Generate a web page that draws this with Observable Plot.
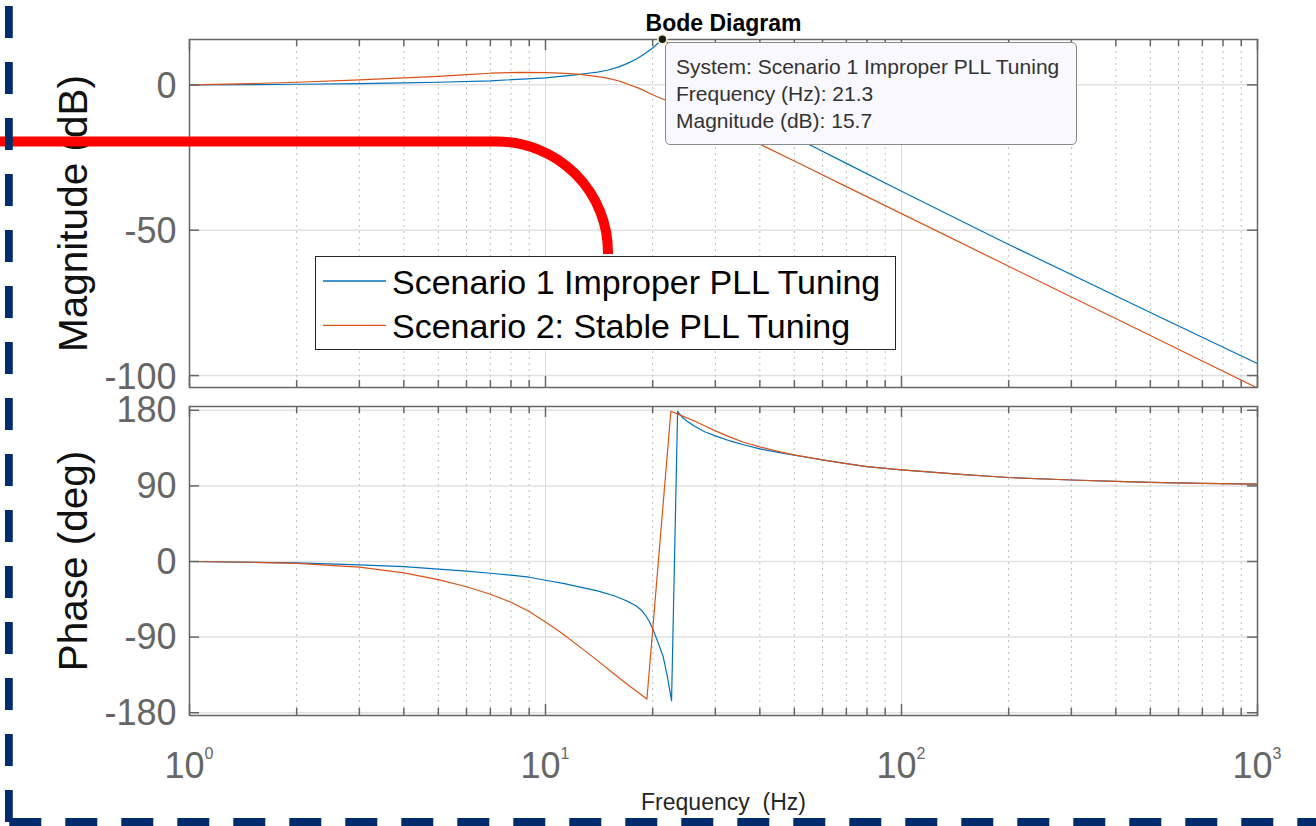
<!DOCTYPE html>
<html>
<head>
<meta charset="utf-8">
<script src="https://cdn.jsdelivr.net/npm/d3@7"></script>
<script src="https://cdn.jsdelivr.net/npm/@observablehq/plot@0.6"></script>
<style>
  html, body { margin: 0; padding: 0; background: #fff; }
  #root { position: relative; width: 1316px; height: 826px; overflow: hidden;
          font-family: "Liberation Sans", Arial, Helvetica, sans-serif; }
  .layer { position: absolute; left: 0; }
</style>
</head>
<body>
<div id="root"></div>
<script>
// ---------------- DATA ----------------
const seriesNames = ["Scenario 1 Improper PLL Tuning", "Scenario 2: Stable PLL Tuning"];
const seriesColors = ["#0072BD", "#D95319"];

// Magnitude (dB) vs frequency (Hz)
const magFreq1 = [1, 1.5, 2, 3, 4, 5, 7, 10, 11, 12, 13, 14, 15, 16, 17, 18, 19, 20, 20.7, 21.3, 22, 23, 25, 30, 35, 40, 45, 55, 70, 100, 200, 500, 1000];
const magVals1 = [0, 0.1, 0.2, 0.45, 0.7, 0.9, 1.4, 2.4, 2.9, 3.35, 3.9, 4.4, 5.1, 6.1, 7.4, 8.9, 10.7, 12.7, 14.3, 15.7, 14.6, 12.2, 7.5, 0, -6.5, -11.2, -15, -20.5, -27.0, -36.6, -54.9, -78.3, -95.9];
const magFreq2 = [1, 1.5, 2, 3, 4, 5, 6, 7, 8.5, 10, 11, 12, 12.5, 13.5, 14.8, 16, 16.9, 18.4, 19.9, 21.6, 25, 30, 35, 40.3, 50, 70, 100, 200, 500, 1000];
const magVals2 = [0, 0.45, 0.9, 1.7, 2.4, 2.9, 3.5, 4.0, 4.3, 4.2, 4.05, 3.8, 3.6, 3.1, 2.4, 1.4, 0.4, -1.3, -3.3, -5.1, -8.6, -13.2, -17.0, -20.6, -26.2, -35.0, -44.3, -62.4, -86.2, -104.3];

// Phase (deg) vs frequency (Hz)
const phFreq1 = [1, 2, 3, 4, 5, 6, 7, 8, 9, 10, 11.3, 12.7, 14, 15.5, 16.5, 17.3, 18, 18.6, 19.1, 19.6, 20, 20.7, 21.4, 22, 22.6, 23.5, 24.3, 25, 26.1, 28, 30, 33, 36, 40, 45, 50, 60, 70, 80, 90, 100, 150, 200, 300, 400, 500, 700, 1000];
const phVals1 = [0, -1.6, -4, -6, -9, -11.5, -14, -16.3, -18.7, -22.3, -26.3, -31, -35, -40.5, -45, -49, -53, -58, -64, -72, -80, -96, -113, -137, -165.7, 178.8, 171, 167, 161.5, 154.5, 149.5, 143.5, 139, 134, 130, 126.5, 121, 116.4, 113, 110.8, 109, 103.5, 100, 97, 95.4, 94.2, 93, 92.2];
const phFreq2 = [1, 1.5, 2, 3, 4, 5, 6, 7, 8, 9, 10, 11, 12.7, 14, 15.5, 17, 19.27, 22.5, 24, 26.1, 28, 30, 33, 36, 40, 45, 50, 60, 70, 80, 90, 100, 150, 200, 300, 400, 500, 700, 1000];
const phVals2 = [0, -0.9, -2.2, -6.8, -13.5, -21.5, -30, -39, -48.5, -59.5, -72, -84, -104, -118, -133, -146.5, -163.7, 178.8, 174, 167.5, 161.5, 155.5, 148, 142, 136.5, 131, 127, 121, 116.4, 113, 110.8, 109, 103.5, 100, 97, 95.4, 94.2, 93, 92.2];

// Axes ticks
const magTicks = [0, -50, -100];
const phaseTicks = [180, 90, 0, -90, -180];
const decadeFreq = [1, 10, 100, 1000];
const decadeBase = ["10", "10", "10", "10"];
const decadeExp = ["0", "1", "2", "3"];
const innerDecades = [10, 100];
const minorFreq = [2, 3, 4, 5, 6, 7, 8, 9, 20, 30, 40, 50, 60, 70, 80, 90, 200, 300, 400, 500, 600, 700, 800, 900];

// Texts
const titleText = "Bode Diagram";
const magLabel = "Magnitude (dB)";
const phaseLabel = "Phase (deg)";
const freqLabel = "Frequency  (Hz)";

// Data tip
const tipSystem = "Scenario 1 Improper PLL Tuning";
const tipFreq = 21.3;
const tipMag = 15.7;

// ---------------- LAYOUT ----------------
const FONT = '"Liberation Sans", Arial, Helvetica, sans-serif';
const W = 1316, ML = 189, MR = 59;
const FW = W - ML - MR;
const AX = "#666";

const zip = (fs, vs) => fs.map((f, i) => ({f, v: vs[i]}));

function gridMarks(yTicks) {
  return [
    Plot.ruleY(yTicks, {y: d => d, stroke: "#e2e2e2", strokeWidth: 1.5}),
    Plot.ruleX(innerDecades, {x: d => d, stroke: "#dcdcdc", strokeWidth: 1}),
    Plot.ruleX(minorFreq, {x: d => d, stroke: "#bdbdbd", strokeWidth: 1, strokeDasharray: "2,4"})
  ];
}
function tickMarks(frameH, yTicks) {
  const c = {stroke: AX, strokeWidth: 1.5};
  return [
    Plot.tickX(minorFreq, {x: d => d, insetBottom: frameH - 7, ...c}),
    Plot.tickX(minorFreq, {x: d => d, insetTop: frameH - 7, ...c}),
    Plot.tickX(decadeFreq, {x: d => d, insetBottom: frameH - 11, ...c}),
    Plot.tickX(decadeFreq, {x: d => d, insetTop: frameH - 11, ...c}),
    Plot.tickY(yTicks, {y: d => d, insetRight: FW - 10, ...c}),
    Plot.tickY(yTicks, {y: d => d, insetLeft: FW - 10, ...c}),
    Plot.frame({stroke: AX, strokeWidth: 1.5})
  ];
}
function seriesLines(f1, v1, f2, v2) {
  return [
    Plot.line(zip(f1, v1), {x: "f", y: "v", stroke: seriesColors[0], strokeWidth: 1.2, clip: true}),
    Plot.line(zip(f2, v2), {x: "f", y: "v", stroke: seriesColors[1], strokeWidth: 1.2, clip: true})
  ];
}

const root = document.getElementById("root");

// ---------- Magnitude panel ----------
const magH = 392, magMT = 39, magMB = 5;
const magPlot = Plot.plot({
  width: W, height: magH,
  marginLeft: ML, marginRight: MR, marginTop: magMT, marginBottom: magMB,
  style: {fontFamily: FONT, background: "transparent", overflow: "visible"},
  x: {type: "log", domain: [1, 1000], axis: null},
  y: {domain: [-104.1, 15.6], axis: null},
  marks: [
    ...gridMarks(magTicks),
    ...seriesLines(magFreq1, magVals1, magFreq2, magVals2),
    ...tickMarks(magH - magMT - magMB, magTicks),
    Plot.text(magTicks, {frameAnchor: "left", y: d => d, text: d => String(d), textAnchor: "end",
      dx: -13, dy: 1.5, fontSize: 36, fill: AX}),
    Plot.text([magLabel], {frameAnchor: "left", text: d => d, rotate: -90, textAnchor: "middle",
      lineAnchor: "bottom", dx: -103, fontSize: 40.5, fill: "#111"}),
    Plot.text([titleText], {frameAnchor: "top", text: d => d, lineAnchor: "bottom", dy: -9,
      fontSize: 23, fontWeight: "bold", fill: "#000"}),
    Plot.dot([{f: tipFreq, v: tipMag}], {x: "f", y: "v", r: 4.5, fill: "#1a1a1a", stroke: "#fff6c0", strokeWidth: 1.6})
  ]
});
const magWrap = document.createElement("div");
magWrap.className = "layer"; magWrap.style.top = "0px";
magWrap.appendChild(magPlot);
root.appendChild(magWrap);

// ---------- Phase panel ----------
const phTop = 396, phH = 430, phMT = 10, phMB = 111;
const phasePlot = Plot.plot({
  width: W, height: phH,
  marginLeft: ML, marginRight: MR, marginTop: phMT, marginBottom: phMB,
  style: {fontFamily: FONT, background: "transparent", overflow: "visible"},
  x: {type: "log", domain: [1, 1000], axis: null},
  y: {domain: [-183.3, 184.5], axis: null},
  marks: [
    ...gridMarks(phaseTicks),
    ...seriesLines(phFreq1, phVals1, phFreq2, phVals2),
    ...tickMarks(phH - phMT - phMB, phaseTicks),
    Plot.text(phaseTicks, {frameAnchor: "left", y: d => d, text: d => String(d), textAnchor: "end",
      dx: -13, dy: 0.5, fontSize: 36, fill: AX}),
    Plot.text([phaseLabel], {frameAnchor: "left", text: d => d, rotate: -90, textAnchor: "middle",
      lineAnchor: "bottom", dx: -103, fontSize: 40.5, fill: "#111"}),
    Plot.text(decadeFreq, {x: d => d, frameAnchor: "bottom", text: (d, i) => decadeBase[i], textAnchor: "end",
      lineAnchor: "bottom", dx: 15, dy: 62, fontSize: 36, fill: AX, ariaLabel: "xtick-base"}),
    Plot.text(decadeFreq, {x: d => d, frameAnchor: "bottom", text: (d, i) => decadeExp[i], textAnchor: "start",
      lineAnchor: "bottom", dx: 15, dy: 43, fontSize: 16, fill: AX, ariaLabel: "xtick-exp"}),
    Plot.text([freqLabel], {frameAnchor: "bottom", text: d => d, lineAnchor: "bottom", dy: 94,
      fontSize: 23, fill: "#262626"})
  ]
});
phasePlot.querySelectorAll('g[aria-label="xtick-base"] text, g[aria-label="xtick-exp"] text').forEach(t => {
  t.setAttribute("transform", (t.getAttribute("transform") || "") + " scale(1,1.28)");
});
const phWrap = document.createElement("div");
phWrap.className = "layer"; phWrap.style.top = phTop + "px";
phWrap.appendChild(phasePlot);
root.appendChild(phWrap);

// ---------- Legend ----------
const legend = document.createElement("div");
Object.assign(legend.style, {position: "absolute", left: "315px", top: "256px", width: "581px", height: "94px",
  boxSizing: "border-box", border: "1px solid #262626", background: "#fff"});
const rowText = [8.2, 51.6], rowLine = [24, 68.3];
const swSvg = d3.create("svg").attr("width", 80).attr("height", 92)
  .style("position", "absolute").style("left", "0px").style("top", "0px");
seriesNames.forEach((name, i) => {
  swSvg.append("line").attr("x1", 7).attr("x2", 70).attr("y1", rowLine[i]).attr("y2", rowLine[i])
    .attr("stroke", seriesColors[i]).attr("stroke-width", 1.3);
  const tx = document.createElement("div");
  Object.assign(tx.style, {position: "absolute", left: "76px", top: rowText[i] + "px", fontSize: "34px",
    lineHeight: "34px", whiteSpace: "nowrap", color: "#000"});
  tx.textContent = name;
  legend.appendChild(tx);
});
legend.appendChild(swSvg.node());
root.appendChild(legend);

// ---------- Data tip box ----------
const tip = document.createElement("div");
Object.assign(tip.style, {position: "absolute", left: "665px", top: "42px", width: "412px", height: "103px",
  boxSizing: "border-box", border: "1px solid #8a8a8a", borderRadius: "5px", background: "#f8f8fe",
  paddingLeft: "10px", paddingTop: "10px", fontSize: "21px", lineHeight: "27px", color: "#333", whiteSpace: "nowrap"});
[ "System: " + tipSystem, "Frequency (Hz): " + tipFreq.toFixed(1), "Magnitude (dB): " + tipMag.toFixed(1) ]
  .forEach(s => { const d = document.createElement("div"); d.textContent = s; tip.appendChild(d); });
root.appendChild(tip);

// ---------- Overlay annotations (red bend, navy dashed border) ----------
const ov = d3.create("svg").attr("width", W).attr("height", 826)
  .style("position", "absolute").style("left", "0px").style("top", "0px").style("pointer-events", "none");
ov.append("path").attr("d", "M -10 141.5 H 497 A 111 111 0 0 1 608 252.5 V 254")
  .attr("fill", "none").attr("stroke", "#ff0000").attr("stroke-width", 10);
ov.append("line").attr("x1", 8.9).attr("y1", 6).attr("x2", 8.9).attr("y2", 830)
  .attr("stroke", "#022b6b").attr("stroke-width", 7.8).attr("stroke-dasharray", "32 24");
ov.append("line").attr("x1", 9.3).attr("y1", 822).attr("x2", 1330).attr("y2", 822)
  .attr("stroke", "#022b6b").attr("stroke-width", 8).attr("stroke-dasharray", "32 24");
root.appendChild(ov.node());
</script>
</body>
</html>
